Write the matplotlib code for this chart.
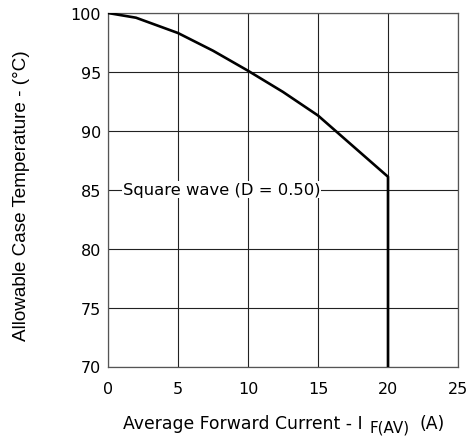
import matplotlib
matplotlib.use("Agg")
import matplotlib.pyplot as plt
from matplotlib.transforms import offset_copy

plt.rcParams['font.family'] = ['DejaVu Sans']

# derating curve
current = [0, 2, 5, 7.5, 10, 12.5, 15, 17.5, 20, 20]
temperature = [100, 99.6, 98.3, 96.8, 95.1, 93.3, 91.3, 88.7, 86.1, 70]

x_ticks = [0, 5, 10, 15, 20, 25]
y_ticks = [70, 75, 80, 85, 90, 95, 100]

W, H = 469, 439
fig = plt.figure(figsize=(W / 100, H / 100), dpi=100)
ax = fig.add_axes([108 / W, 1 - 367.5 / H, 350 / W, 353.5 / H])

ax.plot(current, temperature, color='black', linewidth=1.9, zorder=3)

ax.set_xlim(0, 25)
ax.set_ylim(70, 100)
ax.set_xticks(x_ticks)
ax.set_yticks(y_ticks)
ax.tick_params(length=0, labelsize=11.5)
ax.tick_params(axis='y', pad=5)
ax.tick_params(axis='x', pad=10.5)
ax.grid(True, color='#222222', linewidth=0.8)
for s in ax.spines.values():
    s.set_color('#555555')
    s.set_linewidth(0.9)

ax.text(1.05, 85, 'Square wave (D = 0.50)', fontsize=11.8, va='center', ha='left',
        zorder=4, bbox=dict(facecolor='white', edgecolor='none', pad=0.6))

# y label in an Arial-like face, centred where the reference has it
fig.text(22 / W, 1 - 195.5 / H, 'Allowable Case Temperature - (°C)', fontsize=13.6,
         family='Liberation Sans', rotation=90, ha='center', va='center')

# x label built from pieces so the subscript stays large
r = fig.canvas.get_renderer()
x0, y0 = 123 / W, 1 - 429 / H
t1 = fig.text(x0, y0, 'Average Forward Current - I', fontsize=12.4,
              va='baseline', ha='left')
w1 = t1.get_window_extent(r).width
t2 = fig.text(x0, y0, 'F(AV)', fontsize=10.9, va='baseline', ha='left',
              transform=offset_copy(fig.transFigure, fig=fig, x=w1 + 7, y=-4, units='dots'))
w2 = t2.get_window_extent(r).width
fig.text(x0, y0, '(A)', fontsize=12.4, va='baseline', ha='left',
         transform=offset_copy(fig.transFigure, fig=fig, x=w1 + w2 + 17, y=0, units='dots'))

fig.savefig('out.png', dpi=100)
